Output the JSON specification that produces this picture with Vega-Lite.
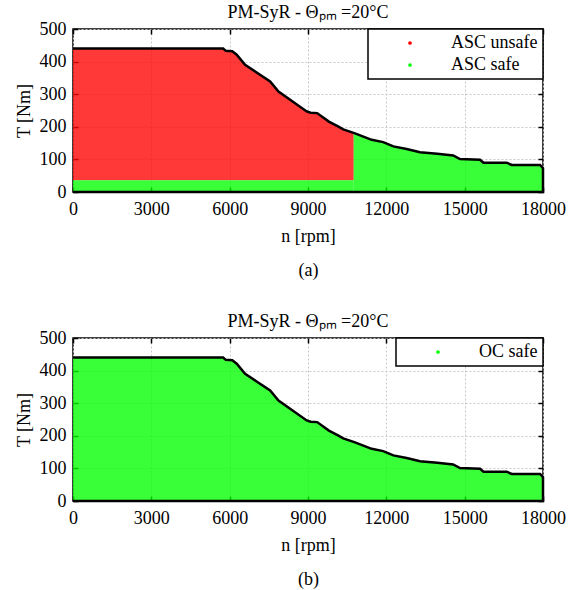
{
  "$schema": "https://vega.github.io/schema/vega-lite/v6.json",
  "padding": {"left": 14, "top": 3, "right": 5, "bottom": 0},
  "background": "white",
  "config": {
    "font": "Liberation Serif",
    "view": {"stroke": "#000", "strokeWidth": 1.5},
    "title": {"font": "Liberation Serif", "fontSize": 18, "fontWeight": 400, "color": "#000", "offset": -2},
    "axis": {
      "labelFont": "Liberation Serif", "labelFontSize": 18, "labelColor": "#000",
      "titleFont": "Liberation Serif", "titleFontSize": 18, "titleFontWeight": 400, "titleColor": "#000",
      "domain": false, "tickColor": "#000", "tickSize": -5, "tickWidth": 1.5,
      "gridColor": "#c8c8c8", "gridDash": [2, 2], "gridWidth": 1
    },
    "legend": {
      "labelFont": "Liberation Serif", "labelFontSize": 18, "labelColor": "#000",
      "strokeColor": "#000", "strokeWidth": 1.5, "fillColor": "white",
      "padding": 5, "symbolType": "circle", "symbolSize": 14, "symbolStrokeWidth": 0,
      "symbolOffset": 28, "labelOffset": 32, "rowPadding": 4, "orient": "top-right", "offset": 0, "title": null
    }
  },
  "datasets": {
    "boundary": [
      {"k": 0, "n": 0, "T": 440}, {"k": 1, "n": 5750, "T": 440}, {"k": 2, "n": 5850, "T": 433},
      {"k": 3, "n": 6100, "T": 432}, {"k": 4, "n": 6270, "T": 421}, {"k": 5, "n": 6590, "T": 390},
      {"k": 6, "n": 7550, "T": 339}, {"k": 7, "n": 7870, "T": 308}, {"k": 8, "n": 8950, "T": 247},
      {"k": 9, "n": 9100, "T": 243}, {"k": 10, "n": 9350, "T": 242}, {"k": 11, "n": 9800, "T": 216},
      {"k": 12, "n": 10150, "T": 201}, {"k": 13, "n": 10350, "T": 192}, {"k": 14, "n": 10800, "T": 180},
      {"k": 15, "n": 11120, "T": 170}, {"k": 16, "n": 11440, "T": 160}, {"k": 17, "n": 11880, "T": 153},
      {"k": 18, "n": 12270, "T": 140}, {"k": 19, "n": 12780, "T": 132}, {"k": 20, "n": 13290, "T": 122},
      {"k": 21, "n": 13950, "T": 117}, {"k": 22, "n": 14560, "T": 112}, {"k": 23, "n": 14820, "T": 101},
      {"k": 24, "n": 15590, "T": 99}, {"k": 25, "n": 15720, "T": 90}, {"k": 26, "n": 16610, "T": 90},
      {"k": 27, "n": 16800, "T": 83}, {"k": 28, "n": 17890, "T": 83}, {"k": 29, "n": 18000, "T": 73},
      {"k": 30, "n": 18000, "T": 0}, {"k": 31, "n": 0, "T": 0}
    ],
    "areaA": [
      {"label": "ASC unsafe", "part": "r", "n": 0, "hi": 440, "lo": 36},
      {"label": "ASC unsafe", "part": "r", "n": 5750, "hi": 440, "lo": 36},
      {"label": "ASC unsafe", "part": "r", "n": 5850, "hi": 433, "lo": 36},
      {"label": "ASC unsafe", "part": "r", "n": 6100, "hi": 432, "lo": 36},
      {"label": "ASC unsafe", "part": "r", "n": 6270, "hi": 421, "lo": 36},
      {"label": "ASC unsafe", "part": "r", "n": 6590, "hi": 390, "lo": 36},
      {"label": "ASC unsafe", "part": "r", "n": 7550, "hi": 339, "lo": 36},
      {"label": "ASC unsafe", "part": "r", "n": 7870, "hi": 308, "lo": 36},
      {"label": "ASC unsafe", "part": "r", "n": 8950, "hi": 247, "lo": 36},
      {"label": "ASC unsafe", "part": "r", "n": 9100, "hi": 243, "lo": 36},
      {"label": "ASC unsafe", "part": "r", "n": 9350, "hi": 242, "lo": 36},
      {"label": "ASC unsafe", "part": "r", "n": 9800, "hi": 216, "lo": 36},
      {"label": "ASC unsafe", "part": "r", "n": 10150, "hi": 201, "lo": 36},
      {"label": "ASC unsafe", "part": "r", "n": 10350, "hi": 192, "lo": 36},
      {"label": "ASC unsafe", "part": "r", "n": 10750, "hi": 181, "lo": 36},
      {"label": "ASC safe", "part": "g1", "n": 0, "hi": 36, "lo": 0},
      {"label": "ASC safe", "part": "g1", "n": 10750, "hi": 36, "lo": 0},
      {"label": "ASC safe", "part": "g2", "n": 10750, "hi": 181, "lo": 0},
      {"label": "ASC safe", "part": "g2", "n": 10800, "hi": 180, "lo": 0},
      {"label": "ASC safe", "part": "g2", "n": 11120, "hi": 170, "lo": 0},
      {"label": "ASC safe", "part": "g2", "n": 11440, "hi": 160, "lo": 0},
      {"label": "ASC safe", "part": "g2", "n": 11880, "hi": 153, "lo": 0},
      {"label": "ASC safe", "part": "g2", "n": 12270, "hi": 140, "lo": 0},
      {"label": "ASC safe", "part": "g2", "n": 12780, "hi": 132, "lo": 0},
      {"label": "ASC safe", "part": "g2", "n": 13290, "hi": 122, "lo": 0},
      {"label": "ASC safe", "part": "g2", "n": 13950, "hi": 117, "lo": 0},
      {"label": "ASC safe", "part": "g2", "n": 14560, "hi": 112, "lo": 0},
      {"label": "ASC safe", "part": "g2", "n": 14820, "hi": 101, "lo": 0},
      {"label": "ASC safe", "part": "g2", "n": 15590, "hi": 99, "lo": 0},
      {"label": "ASC safe", "part": "g2", "n": 15720, "hi": 90, "lo": 0},
      {"label": "ASC safe", "part": "g2", "n": 16610, "hi": 90, "lo": 0},
      {"label": "ASC safe", "part": "g2", "n": 16800, "hi": 83, "lo": 0},
      {"label": "ASC safe", "part": "g2", "n": 17890, "hi": 83, "lo": 0},
      {"label": "ASC safe", "part": "g2", "n": 18000, "hi": 73, "lo": 0}
    ],
    "areaB": [
      {"label": "OC safe", "n": 0, "hi": 440, "lo": 0},
      {"label": "OC safe", "n": 5750, "hi": 440, "lo": 0},
      {"label": "OC safe", "n": 5850, "hi": 433, "lo": 0},
      {"label": "OC safe", "n": 6100, "hi": 432, "lo": 0},
      {"label": "OC safe", "n": 6270, "hi": 421, "lo": 0},
      {"label": "OC safe", "n": 6590, "hi": 390, "lo": 0},
      {"label": "OC safe", "n": 7550, "hi": 339, "lo": 0},
      {"label": "OC safe", "n": 7870, "hi": 308, "lo": 0},
      {"label": "OC safe", "n": 8950, "hi": 247, "lo": 0},
      {"label": "OC safe", "n": 9100, "hi": 243, "lo": 0},
      {"label": "OC safe", "n": 9350, "hi": 242, "lo": 0},
      {"label": "OC safe", "n": 9800, "hi": 216, "lo": 0},
      {"label": "OC safe", "n": 10150, "hi": 201, "lo": 0},
      {"label": "OC safe", "n": 10350, "hi": 192, "lo": 0},
      {"label": "OC safe", "n": 10800, "hi": 180, "lo": 0},
      {"label": "OC safe", "n": 11120, "hi": 170, "lo": 0},
      {"label": "OC safe", "n": 11440, "hi": 160, "lo": 0},
      {"label": "OC safe", "n": 11880, "hi": 153, "lo": 0},
      {"label": "OC safe", "n": 12270, "hi": 140, "lo": 0},
      {"label": "OC safe", "n": 12780, "hi": 132, "lo": 0},
      {"label": "OC safe", "n": 13290, "hi": 122, "lo": 0},
      {"label": "OC safe", "n": 13950, "hi": 117, "lo": 0},
      {"label": "OC safe", "n": 14560, "hi": 112, "lo": 0},
      {"label": "OC safe", "n": 14820, "hi": 101, "lo": 0},
      {"label": "OC safe", "n": 15590, "hi": 99, "lo": 0},
      {"label": "OC safe", "n": 15720, "hi": 90, "lo": 0},
      {"label": "OC safe", "n": 16610, "hi": 90, "lo": 0},
      {"label": "OC safe", "n": 16800, "hi": 83, "lo": 0},
      {"label": "OC safe", "n": 17890, "hi": 83, "lo": 0},
      {"label": "OC safe", "n": 18000, "hi": 73, "lo": 0}
    ]
  },
  "resolve": {"scale": {"color": "independent"}, "legend": {"color": "independent"}},
  "spacing": 32,
  "vconcat": [
    {
      "width": 470, "height": 163,
      "title": {"text": "PM-SyR - Θₚₘ =20°C", "font": "Liberation Serif", "fontWeight": 400, "fontSize": 18},
      "resolve": {"scale": {"x": "independent", "y": "independent"}},
      "layer": [
        {
          "data": {"name": "areaA"},
          "mark": {"type": "area", "fillOpacity": 0.78, "line": false},
          "encoding": {
            "x": {"field": "n", "type": "quantitative", "scale": {"domain": [0, 18000], "nice": false},
                  "axis": {"values": [0, 3000, 6000, 9000, 12000, 15000, 18000], "labelPadding": 13, "titlePadding": 9, "title": ["n [rpm]", "(a)"], "titleLineHeight": 34, "titleFont": "Liberation Serif", "titleFontWeight": 400, "labelFlush": false, "format": "d"}},
            "y": {"field": "hi", "type": "quantitative", "scale": {"domain": [0, 500], "nice": false},
                  "axis": {"values": [0, 100, 200, 300, 400, 500], "labelPadding": 12, "titlePadding": 6, "title": "T [Nm]", "titleFont": "Liberation Serif", "titleFontWeight": 400}},
            "y2": {"field": "lo"},
            "detail": {"field": "part"},
            "color": {"field": "label", "type": "nominal", "scale": {"domain": ["ASC unsafe", "ASC safe"], "range": ["#ff0000", "#00ff00"]}, "legend": {"symbolOpacity": 1}}
          }
        },
        {
          "data": {"name": "boundary"},
          "mark": {"type": "line", "color": "#000", "strokeWidth": 2.5},
          "encoding": {
            "x": {"field": "n", "type": "quantitative", "scale": {"domain": [0, 18000], "nice": false},
                  "axis": {"orient": "top", "values": [0, 3000, 6000, 9000, 12000, 15000, 18000], "labels": false, "grid": false, "title": null}},
            "y": {"field": "T", "type": "quantitative", "scale": {"domain": [0, 500], "nice": false},
                  "axis": {"orient": "right", "values": [0, 100, 200, 300, 400, 500], "labels": false, "grid": false, "title": null}},
            "order": {"field": "k", "type": "quantitative"}
          }
        }
      ]
    },
    {
      "width": 470, "height": 163,
      "title": {"text": "PM-SyR - Θₚₘ =20°C", "font": "Liberation Serif", "fontWeight": 400, "fontSize": 18},
      "resolve": {"scale": {"x": "independent", "y": "independent"}},
      "layer": [
        {
          "data": {"name": "areaB"},
          "mark": {"type": "area", "fillOpacity": 0.78, "line": false},
          "encoding": {
            "x": {"field": "n", "type": "quantitative", "scale": {"domain": [0, 18000], "nice": false},
                  "axis": {"values": [0, 3000, 6000, 9000, 12000, 15000, 18000], "labelPadding": 13, "titlePadding": 9, "title": ["n [rpm]", "(b)"], "titleLineHeight": 34, "titleFont": "Liberation Serif", "titleFontWeight": 400, "labelFlush": false, "format": "d"}},
            "y": {"field": "hi", "type": "quantitative", "scale": {"domain": [0, 500], "nice": false},
                  "axis": {"values": [0, 100, 200, 300, 400, 500], "labelPadding": 12, "titlePadding": 6, "title": "T [Nm]", "titleFont": "Liberation Serif", "titleFontWeight": 400}},
            "y2": {"field": "lo"},
            "color": {"field": "label", "type": "nominal", "scale": {"domain": ["OC safe"], "range": ["#00ff00"]}, "legend": {"symbolOpacity": 1}}
          }
        },
        {
          "data": {"name": "boundary"},
          "mark": {"type": "line", "color": "#000", "strokeWidth": 2.5},
          "encoding": {
            "x": {"field": "n", "type": "quantitative", "scale": {"domain": [0, 18000], "nice": false},
                  "axis": {"orient": "top", "values": [0, 3000, 6000, 9000, 12000, 15000, 18000], "labels": false, "grid": false, "title": null}},
            "y": {"field": "T", "type": "quantitative", "scale": {"domain": [0, 500], "nice": false},
                  "axis": {"orient": "right", "values": [0, 100, 200, 300, 400, 500], "labels": false, "grid": false, "title": null}},
            "order": {"field": "k", "type": "quantitative"}
          }
        }
      ]
    }
  ]
}
